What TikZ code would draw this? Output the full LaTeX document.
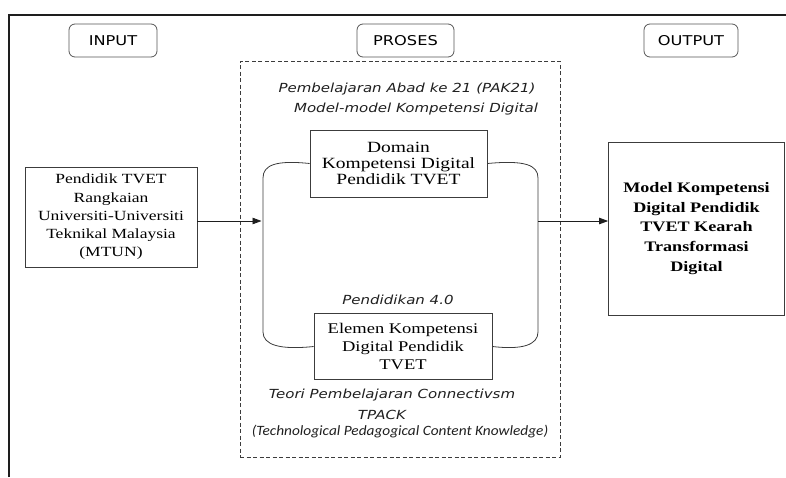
\documentclass[tikz,border=0pt]{standalone}
\usepackage{fontspec}
\usepackage{xcolor}
\usepackage{tikz}
\usetikzlibrary{arrows.meta,positioning}
\newfontfamily\boxfont[FakeStretch=1.25]{Liberation Serif}
\newfontfamily\hdrfont[FakeStretch=1.2]{DejaVu Sans}
\newfontfamily\notefont[FakeStretch=1.2]{DejaVu Sans}
\newfontfamily\smallnotefont[FakeStretch=1.08]{Carlito}
\definecolor{FrameDark} {HTML}{1E1E1E}
\definecolor{BoxLine}   {HTML}{3C3C3C}
\definecolor{HdrLine}   {HTML}{555555}
\definecolor{NoteText}  {HTML}{202020}

\tikzset{
    hdrbox/.style={draw=HdrLine,rounded corners=6pt,line width=0.8pt,
        minimum height=33pt,inner sep=0pt,
        font=\hdrfont\fontsize{13.5}{16}\selectfont},
    plainbox/.style={draw=BoxLine,line width=0.8pt,inner sep=2pt,align=center},
    notetext/.style={inner sep=0pt,text=NoteText,
        font=\notefont\itshape\fontsize{12.5}{15}\selectfont},
    flowarrow/.style={draw=FrameDark,line width=0.8pt,
        -{Triangle[length=9pt,width=6.5pt]}}
}

\begin{document}
\begin{tikzpicture}[x=1pt,y=-1pt]
    \useasboundingbox (0,0) rectangle (786,477);
    % outer frame, only top and left edge visible
    \draw[FrameDark,line width=1.6pt] (9,477) -- (9,15) -- (786,15);

    % column headers
    \node[hdrbox,minimum width=88pt] (inputhdr) at (113,40.5) {INPUT};
    \node[hdrbox,minimum width=97pt] (proseshdr) at (405.5,40.5) {PROSES};
    \node[hdrbox,minimum width=94pt] (outputhdr) at (691,40.5) {OUTPUT};

    % process area
    \node[draw=BoxLine,dashed,dash pattern=on 4pt off 2.5pt,line width=0.7pt,
          minimum width=320pt,minimum height=396pt] (proses) at (400,259) {};

    \node[notetext] (pak) at (407,89) {Pembelajaran Abad ke 21 (PAK21)};
    \node[notetext] (kompmodel) at (416,109) {Model-model Kompetensi Digital};
    \node[notetext] (pend4) at (398,300) {Pendidikan 4.0};
    \node[notetext] (teori) at (392,395) {Teori Pembelajaran Connectivsm};
    \node[notetext] (tpack) at (382,415) {TPACK};
    \node[inner sep=0pt,text=NoteText,
          font=\smallnotefont\itshape\fontsize{14.2}{15}\selectfont]
          (tpackfull) at (400,432) {(Technological Pedagogical Content Knowledge)};

    \node[plainbox,minimum width=177pt,minimum height=67pt,
          font=\boxfont\fontsize{15.6}{16.3}\selectfont] (domain) at (398.5,163.5)
          {Domain\\Kompetensi Digital\\Pendidik TVET};
    \node[plainbox,minimum width=178pt,minimum height=66pt,
          font=\boxfont\fontsize{14.8}{18.4}\selectfont] (elemen) at (403,346.5)
          {Elemen Kompetensi\\Digital Pendidik\\TVET};

    % bracket joining the two boxes
    \coordinate (brTL) at (263,178);
    \coordinate (brBL) at (263,332);
    \coordinate (brTR) at (538,178);
    \coordinate (brBR) at (538,332);
    \coordinate (midL) at (263,221);
    \coordinate (midR) at (538,221);
    \draw[BoxLine,line width=0.8pt] (domain.west) .. controls (276,160) and (263,165) .. (brTL)
        -- (brBL) .. controls (263,345) and (280,350) .. (elemen.west);
    \draw[BoxLine,line width=0.8pt] (domain.east) .. controls (525,160) and (538,165) .. (brTR)
        -- (brBR) .. controls (538,345) and (522,350) .. (elemen.east);

    % input and output
    \node[plainbox,minimum width=172pt,minimum height=100pt,
          font=\boxfont\fontsize{14}{18.3}\selectfont] (pendidik) at (111,217)
          {Pendidik TVET\\Rangkaian\\Universiti-Universiti\\Teknikal Malaysia\\(MTUN)};
    \node[plainbox,minimum width=176pt,minimum height=173pt,
          font=\boxfont\bfseries\fontsize{14.5}{19.7}\selectfont] (model) at (696.5,228.5)
          {Model Kompetensi\\Digital Pendidik\\TVET Kearah\\Transformasi\\Digital};

    \draw[flowarrow,shorten >=1.5pt] (pendidik.east |- midL) -- (midL);
    \draw[flowarrow] (midR) -- (model.west |- midR);
\end{tikzpicture}
\end{document}
